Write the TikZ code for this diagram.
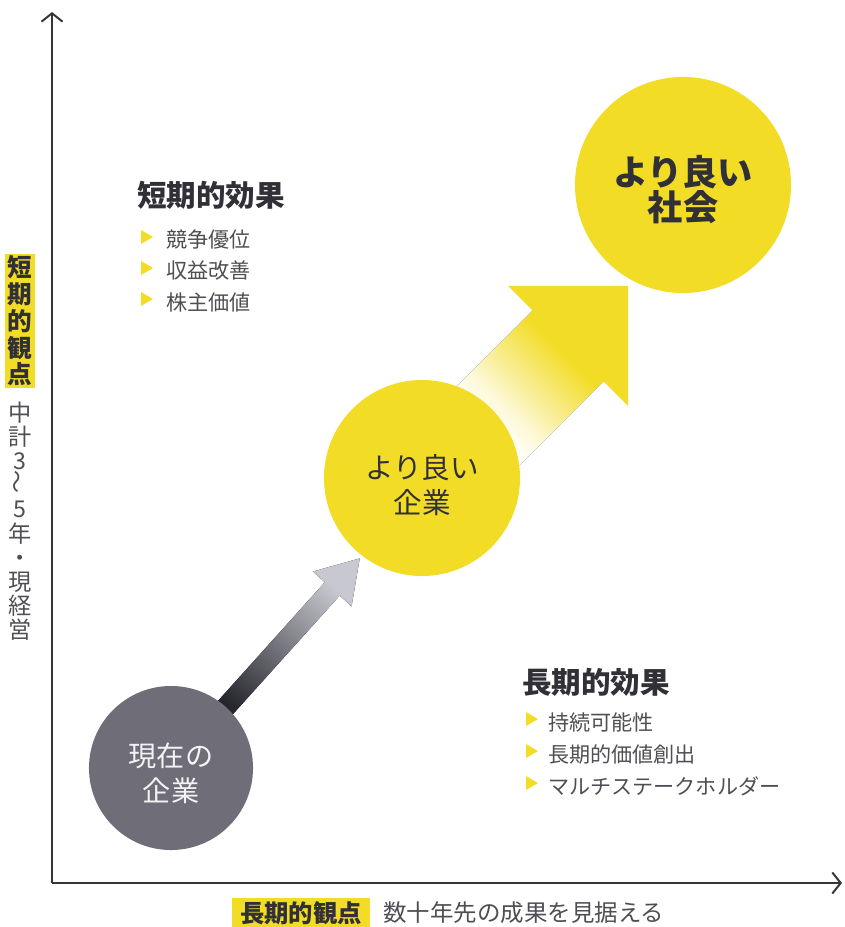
\documentclass[tikz,border=0pt]{standalone}
\usepackage{fontspec}
\setmainfont{Noto Sans CJK JP}
\usetikzlibrary{arrows.meta,positioning}

\definecolor{hlyellow}{RGB}{242,220,38}
\definecolor{nowgray}{RGB}{110,109,120}
\definecolor{inkdark}{RGB}{48,48,54}
\definecolor{inkgray}{RGB}{78,78,84}
\definecolor{axisgray}{RGB}{52,52,58}
\definecolor{shaftdark}{RGB}{38,38,46}
\definecolor{shaftlight}{RGB}{200,200,208}

\pgfdeclarehorizontalshading{yellowfade}{100bp}{color(0bp)=(white); color(45bp)=(white); color(52bp)=(hlyellow!18!white); color(71bp)=(hlyellow); color(100bp)=(hlyellow)}
\pgfdeclarehorizontalshading{grayfade}{100bp}{color(0bp)=(shaftdark); color(38bp)=(shaftdark); color(76bp)=(shaftlight); color(100bp)=(shaftlight)}

\begin{document}
\begin{tikzpicture}[x=0.025cm, y=-0.025cm,
  circ/.style={circle, inner sep=0pt},
  circtext/.style={align=center, inner sep=0pt},
  head/.style={anchor=west, inner sep=0pt, text=inkdark, font=\fontsize{21}{24}\selectfont\bfseries},
  item/.style={anchor=west, inner sep=0pt, text=inkgray, font=\fontsize{15}{18}\selectfont},
  bullet/.style={fill=hlyellow},
  axis/.style={line width=1.4pt, draw=axisgray, -{Straight Barb[length=6pt, width=15pt, line width=1.4pt]}}]

\useasboundingbox (0,0) rectangle (845,927);

\coordinate (now) at (171,768);
\coordinate (better) at (422,478);
\coordinate (society) at (683,185);

% axes
\coordinate (O) at (52,883);
\coordinate (Ytop) at (52,12);
\coordinate (Xend) at (842,883);
\draw[axis] (O) -- (Ytop);
\draw[axis] (O) -- (Xend);

% block arrows (behind the circles)
\begin{scope}[shift={(now)}, rotate=48]
  \fill[shading=grayfade, shading angle=48] (0,-10) -- (241,-10) -- (241,-26) -- (282,0) -- (241,26) -- (241,10) -- (0,10) -- cycle;
\end{scope}
\begin{scope}[shift={(429,485)}, rotate=45]
  \fill[shading=yellowfade, shading angle=45] (0,-50) -- (200,-50) -- (200,50) -- (0,50) -- cycle;
  \fill[hlyellow] (196.6,-85) -- (281.6,0) -- (196.6,85) -- cycle;
\end{scope}

% circles
\node[circ, fill=nowgray, minimum size=4.1cm] (N) at (now) {};
\node[circtext, text=white!92!nowgray, font=\fontsize{20}{25}\selectfont] (Ntext) at ([yshift=-0.13cm]N.center) {現在の\\企業};
\node[circ, fill=hlyellow, minimum size=4.9cm] (B) at (better) {};
\node[circtext, text=inkdark, font=\fontsize{20.3}{25}\selectfont] (Btext) at ([yshift=-0.18cm]B.center) {より良い\\企業};
\node[circ, fill=hlyellow, minimum size=5.4cm] (S) at (society) {};
\node[circtext, text=inkdark, font=\fontsize{25}{24.5}\selectfont\bfseries] (Stext) at ([yshift=-0.12cm]S.center) {より良い\\社会};

% short term effects
\node[head] (SH) at (137,195) {短期的効果};
\foreach \y/\t in {240/競争優位, 271/収益改善, 302/株主価値} {
  \fill[bullet] (141,\y-10) -- (153,\y-3) -- (141,\y+4) -- cycle;
  \node[item] at (166,\y) {\t};
}

% long term effects
\node[head] (LH) at (522,682) {長期的効果};
\foreach \y/\t in {722/持続可能性, 754/長期的価値創出, 786/マルチステークホルダー} {
  \fill[bullet] (526,\y-10) -- (538,\y-3) -- (526,\y+4) -- cycle;
  \node[item] at (548,\y) {\t};
}

% axis labels
\node[fill=hlyellow, minimum width=0.75cm, minimum height=3.35cm, inner sep=0pt, align=center, text=inkdark,
  font=\fontsize{17.5}{19}\selectfont\bfseries] (VL) at (20,321) {短\\期\\的\\観\\点};
\node[anchor=north, inner sep=0pt, align=center, text=inkgray,
  font=\fontsize{16.5}{17.1}\selectfont] (VT) at (20,402) {中\\計\\3\\\rotatebox{90}{〜}\\5\\年\\・\\現\\経\\営};

\node[fill=hlyellow, minimum width=3.45cm, minimum height=0.75cm, inner sep=0pt, text=inkdark,
  font=\fontsize{17.3}{20}\selectfont\bfseries] (HL) at (301,913) {長期的観点};
\node[anchor=west, inner sep=0pt, text=inkgray, font=\fontsize{16.7}{20}\selectfont] (HT) at (383,913) {数十年先の成果を見据える};

\end{tikzpicture}
\end{document}
